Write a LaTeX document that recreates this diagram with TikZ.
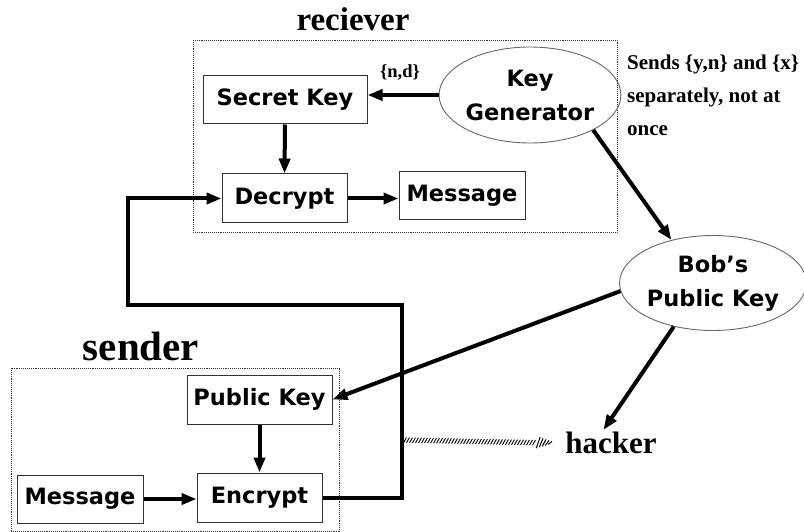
\documentclass[tikz,border=0pt]{standalone}
\usepackage{fontspec}
\setmainfont{Liberation Serif}
\newfontfamily\boxfont{DejaVu Sans}
\usetikzlibrary{arrows.meta,shapes.geometric,decorations.markings}

\tikzset{
	keybox/.style={draw=black!80, line width=1pt, inner sep=0pt, minimum height=48pt,
		font=\boxfont\bfseries\fontsize{22.5}{26}\selectfont},
	keyoval/.style={ellipse, draw=black!60, line width=0.9pt, inner sep=0pt, align=center,
		font=\boxfont\bfseries\fontsize{22.5}{34}\selectfont},
	flow/.style={line width=4pt, -{Triangle[length=15pt,width=11pt]}},
	zone/.style={draw=black!80, densely dotted, line width=0.9pt},
	tag/.style={font=\bfseries\fontsize{#1}{#1}\selectfont, inner sep=2pt},
	hatched/.style={decoration={markings,
			mark=between positions 0 and 0.88 step 3pt with {\draw[line width=0.9pt] (-1.4,2.6) -- (1.4,-2.6);},
			mark=at position 1 with {\foreach \i in {0,...,4}
				{\draw[line width=1pt] ({-15+\i*3-1.8},{5.5-\i}) -- ({-15+\i*3+1.8},{-5.5+\i});}}},
		decorate},
}

\begin{document}
\begin{tikzpicture}[x=1pt,y=-1pt]
	\useasboundingbox (0,0) rectangle (804,532);

	% dotted zones
	\draw[zone] (193,40) rectangle (617,232);
	\draw[zone] (11,368) rectangle (339,531);

	% zone labels
	\node[tag=33] (reciever) at (353,19) {reciever};
	\node[tag=41] (sender) at (141,346) {sender};
	\node[tag=31] (hacker) at (611,443) {hacker};
	\node[tag=18.5] (nd) at (400,73) {\{n,d\}};
	\node[tag=21, anchor=north west, align=left, font=\bfseries\fontsize{21}{33}\selectfont, inner sep=0pt]
		(note) at (627,55) {Sends \{y,n\} and \{x\}\\separately, not at\\once};

	% receiver side
	\node[keyoval, minimum width=164pt, minimum height=96pt] (keygen) at (530,95) {Key\\Generator};
	\node[keybox, minimum width=164pt] (secret) at (285,100) {Secret Key};
	\node[keybox, minimum width=125pt, minimum height=49pt] (decrypt) at (284.5,198.5) {Decrypt};
	\node[keybox, minimum width=126pt] (msgtop) at (462,196) {Message};

	% public key
	\node[keyoval, minimum width=172pt, minimum height=95pt] (bob) at (713,283) {Bob’s\\Public Key};

	% sender side
	\node[keybox, minimum width=145pt, minimum height=49pt] (public) at (259.5,399.5) {Public Key};
	\node[keybox, minimum width=125pt, minimum height=49pt] (encrypt) at (259.5,497.5) {Encrypt};
	\node[keybox, minimum width=126pt] (msgbot) at (80,499) {Message};

	% arrows
	\draw[flow] (keygen.west) -- (keygen.west -| secret.east);
	\draw[flow] (secret.south) -- (decrypt.north);
	\draw[flow] (decrypt.east) -- (decrypt.east -| msgtop.west);
	\draw[flow] (keygen.-29) -- (bob.134);
	\draw[flow] (bob.185) -- (public.east);
	\draw[flow] (bob.228) -- (hacker.120);
	\draw[flow] (public.south) -- (encrypt.north);
	\draw[flow] (msgbot.east) -- (msgbot.east -| encrypt.west);

	% cipher text back to the receiver
	\coordinate (relay) at (402,305);
	\coordinate (bend) at (128,305);
	\coordinate (tap) at (402,440);
	\draw[flow] (encrypt.east) -| (relay) -- (bend) |- (decrypt.west);

	% eavesdropping
	\path[hatched] (tap) -- ([xshift=-10pt]hacker.west);
\end{tikzpicture}
\end{document}
